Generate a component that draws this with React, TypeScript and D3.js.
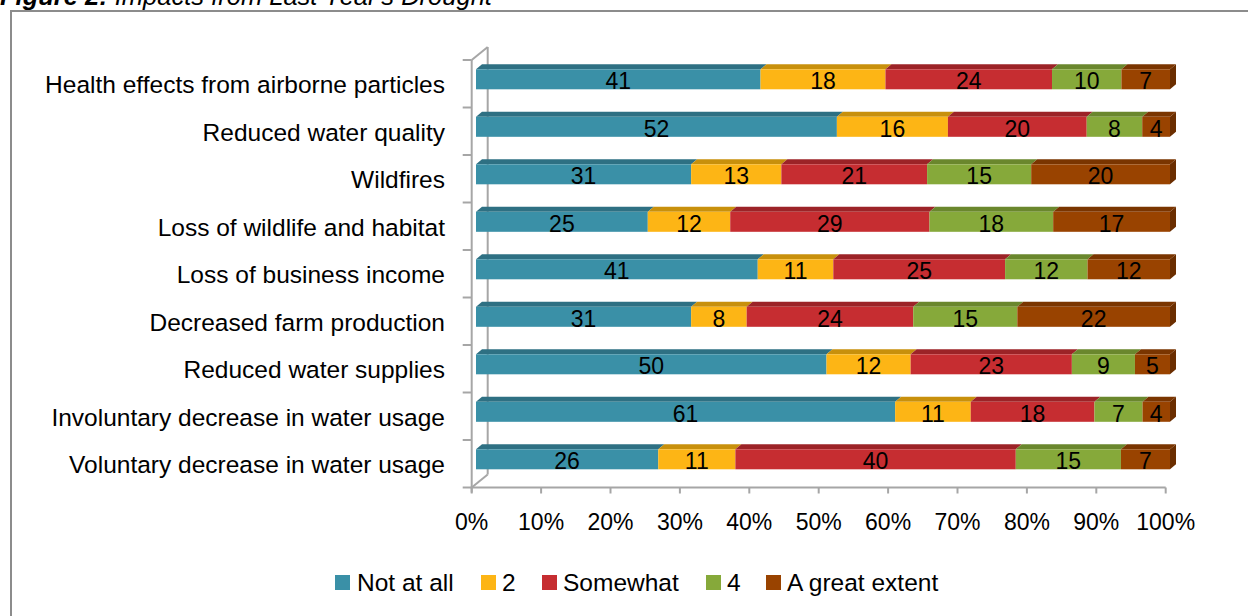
import React from "react";
import * as d3 from "d3";

const categories = [
  "Health effects from airborne particles",
  "Reduced water quality",
  "Wildfires",
  "Loss of wildlife and habitat",
  "Loss of business income",
  "Decreased farm production",
  "Reduced water supplies",
  "Involuntary decrease in water usage",
  "Voluntary decrease in water usage",
];
const seriesNames = ["Not at all", "2", "Somewhat", "4", "A great extent"];
const notAtAll = [41, 52, 31, 25, 41, 31, 50, 61, 26];
const two = [18, 16, 13, 12, 11, 8, 12, 11, 11];
const somewhat = [24, 20, 21, 29, 25, 24, 23, 18, 40];
const four = [10, 8, 15, 18, 12, 15, 9, 7, 15];
const greatExtent = [7, 4, 20, 17, 12, 22, 5, 4, 7];
const xTicks = [0, 0.1, 0.2, 0.3, 0.4, 0.5, 0.6, 0.7, 0.8, 0.9, 1.0];

const frontColors = ["#3A90A7", "#FDB515", "#C62D31", "#86A93A", "#994300"];
const topColors = ["#2E7083", "#C8900C", "#9C2327", "#6A872D", "#7A3500"];
const sideColor = "#6B2E00";

const FONT = "'Liberation Sans', Arial, sans-serif";
const FS_TEXT = 24.5;
const FS_NUM = 23;

export default function App() {
  const W = 1248, H = 616;
  const series = [notAtAll, two, somewhat, four, greatExtent];
  const axisX0 = 471.7, axisX1 = 1165.7;
  const x = d3.scaleLinear().domain([0, 1]).range([axisX0, axisX1]);
  const y = d3.scaleBand<string>().domain(categories).range([60, 487.5]).paddingInner(0).paddingOuter(0);
  const wallDx = 16, wallDy = -13;
  const frontDx = 4.3;
  const depthDx = 6, depthDy = -5;
  const barOffsetTop = 9.3, barH = 20;
  const axisY = 487.5;
  const gray = "#A6A6A6";

  const rows = categories.map((c, i) => {
    const vals = series.map((s) => s[i]);
    const total = d3.sum(vals);
    let cum = 0;
    const segs = vals.map((v, k) => {
      const a = cum / total;
      cum += v;
      const b = cum / total;
      return { k, v, a, b };
    });
    return { c, segs };
  });

  const legendItems = [
    { sx: 335, tx: 357 },
    { sx: 481, tx: 502 },
    { sx: 542, tx: 563 },
    { sx: 706, tx: 727 },
    { sx: 766, tx: 787 },
  ];

  return (
    <svg width={W} height={H} style={{ position: "absolute", left: 0, top: 0, background: "#fff" }} fontFamily={FONT}>
      <rect x={0} y={0} width={W} height={H} fill="#fff" />
      {/* title (cut off at top in the original) */}
      <text x={0} y={5} fontSize={25.5} fontStyle="italic" fill="#000">
        <tspan fontWeight="bold">Figure 2:</tspan>
        <tspan> Impacts from Last Year's Drought</tspan>
      </text>
      {/* outer border */}
      <rect x={11} y={11} width={W + 20} height={H + 20} fill="none" stroke="#8C8C8C" strokeWidth={2} />

      {/* walls / axes */}
      <g stroke={gray} strokeWidth={2} fill="none">
        <line x1={axisX0} y1={y.range()[0]} x2={axisX0} y2={axisY + 5} />
        <line x1={axisX0} y1={y.range()[0]} x2={axisX0 + wallDx} y2={y.range()[0] + wallDy} />
        <line x1={axisX0 + wallDx} y1={y.range()[0] + wallDy} x2={axisX0 + wallDx} y2={axisY + wallDy} />
        <line x1={axisX0} y1={axisY} x2={axisX0 + wallDx} y2={axisY + wallDy} />
        <line x1={axisX0 - 1} y1={axisY} x2={axisX1} y2={axisY} />
        {categories.map((c) => (
          <line key={c} x1={axisX0 - 9} y1={y(c)!} x2={axisX0} y2={y(c)!} />
        ))}
        <line x1={axisX0 - 9} y1={axisY} x2={axisX0} y2={axisY} />
        {xTicks.map((t) => (
          <line key={t} x1={x(t)} y1={axisY} x2={x(t)} y2={axisY + 6} />
        ))}
      </g>

      {/* bars */}
      {rows.map((r) => {
        const top = y(r.c)! + barOffsetTop;
        const bot = top + barH;
        const xe = x(1) + frontDx;
        return (
          <g key={r.c}>
            {r.segs.map((s) => {
              const xa = x(s.a) + frontDx, xb = x(s.b) + frontDx;
              return (
                <polygon
                  key={"t" + s.k}
                  points={`${xa},${top} ${xb},${top} ${xb + depthDx},${top + depthDy} ${xa + depthDx},${top + depthDy}`}
                  fill={topColors[s.k]}
                />
              );
            })}
            {r.segs.map((s) => {
              const xa = x(s.a) + frontDx, xb = x(s.b) + frontDx;
              return <rect key={"f" + s.k} x={xa} y={top} width={xb - xa} height={barH} fill={frontColors[s.k]} />;
            })}
            <polygon
              points={`${xe},${top} ${xe + depthDx},${top + depthDy} ${xe + depthDx},${bot + depthDy} ${xe},${bot}`}
              fill={sideColor}
            />
            {r.segs.map((s) => (
              <text
                key={"l" + s.k}
                x={(x(s.a) + x(s.b)) / 2 + frontDx}
                y={top + barH / 2 + 2}
                fontSize={FS_NUM}
                textAnchor="middle"
                dominantBaseline="central"
                fill="#000"
              >
                {s.v}
              </text>
            ))}
          </g>
        );
      })}

      {/* category labels */}
      {categories.map((c) => (
        <text key={c} x={445} y={y(c)! + y.bandwidth() / 2 + 1} fontSize={FS_TEXT} textAnchor="end" dominantBaseline="central" fill="#000">
          {c}
        </text>
      ))}

      {/* x tick labels */}
      {xTicks.map((t) => (
        <text key={t} x={x(t)} y={522} fontSize={FS_NUM} textAnchor="middle" dominantBaseline="central" fill="#000">
          {d3.format(".0%")(t)}
        </text>
      ))}

      {/* legend */}
      {seriesNames.map((n, k) => (
        <g key={n}>
          <rect x={legendItems[k].sx} y={575} width={15} height={15} fill={frontColors[k]} />
          <text x={legendItems[k].tx} y={582.5} fontSize={FS_TEXT} dominantBaseline="central" fill="#000">
            {n}
          </text>
        </g>
      ))}
    </svg>
  );
}
